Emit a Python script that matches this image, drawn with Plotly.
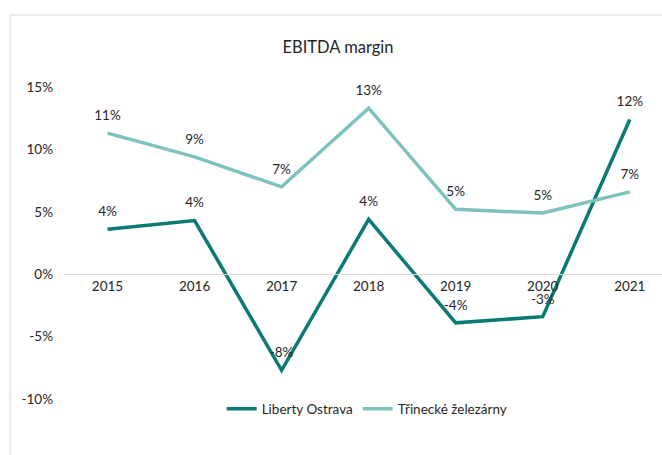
import plotly.graph_objects as go

years = ["2015", "2016", "2017", "2018", "2019", "2020", "2021"]
liberty = [0.036, 0.043, -0.077, 0.044, -0.039, -0.034, 0.124]
trinec = [0.113, 0.094, 0.070, 0.133, 0.052, 0.049, 0.066]
yticks = [-0.10, -0.05, 0.0, 0.05, 0.10, 0.15]
ytick_labels = ["-10%", "-5%", "0%", "5%", "10%", "15%"]

FONT = "Lato, 'Open Sans', sans-serif"
TXT = "#262626"
FS = 13.5

fig = go.Figure()
for name, vals, col in [("Liberty Ostrava", liberty, "#0B7A74"),
                        ("Třinecké železárny", trinec, "#7DC2BD")]:
    fig.add_trace(go.Scatter(
        x=years, y=vals, name=name, mode="lines",
        line=dict(color=col, width=3.5), hoverinfo="skip",
    ))
for vals in [liberty, trinec]:
    fig.add_trace(go.Scatter(
        x=years, y=vals, mode="markers+text", showlegend=False,
        marker=dict(size=14, color="white", opacity=0),
        texttemplate="%{y:.0%}", textposition="top center",
        textfont=dict(family=FONT, size=FS, color=TXT), cliponaxis=False,
        hoverinfo="skip",
    ))

fig.update_layout(
    width=662, height=455,
    margin=dict(l=64, r=0, t=87, b=56, autoexpand=False),
    paper_bgcolor="white", plot_bgcolor="white",
    font=dict(family=FONT, size=FS, color=TXT),
    title=dict(text="EBITDA margin", x=338 / 662, xref="container", xanchor="center",
               y=1 - 47 / 455, yref="container", yanchor="middle",
               font=dict(family=FONT, size=16.5, color=TXT)),
    showlegend=True,
    legend=dict(orientation="h", x=0.507, xanchor="center", y=-0.032, yanchor="middle",
                font=dict(family=FONT, size=FS, color=TXT), itemwidth=30,
                bgcolor="rgba(0,0,0,0)"),
    xaxis=dict(type="category", range=[-0.5, 6.37], anchor="free", position=0.4,
               showline=True, linecolor="#D9D9D9", linewidth=1, showgrid=False,
               ticks="", tickfont=dict(family=FONT, size=FS, color=TXT), zeroline=False,
               automargin=False),
    yaxis=dict(range=[-0.10, 0.15], tickvals=yticks, ticktext=ytick_labels,
               showgrid=False, zeroline=False, showline=False, ticks="",
               ticklabelstandoff=10, automargin=False,
               tickfont=dict(family=FONT, size=FS, color=TXT)),
    shapes=[dict(type="rect", xref="paper", yref="paper",
                 x0=(10 - 64) / 598, x1=1.05, y0=-0.3, y1=1 + (87 - 15) / 312,
                 line=dict(color="#D9D9D9", width=1), fillcolor="rgba(0,0,0,0)",
                 layer="below")],
)

fig.write_html("out.html", config={"displayModeBar": False},
               post_script="document.body.style.margin='0';")
